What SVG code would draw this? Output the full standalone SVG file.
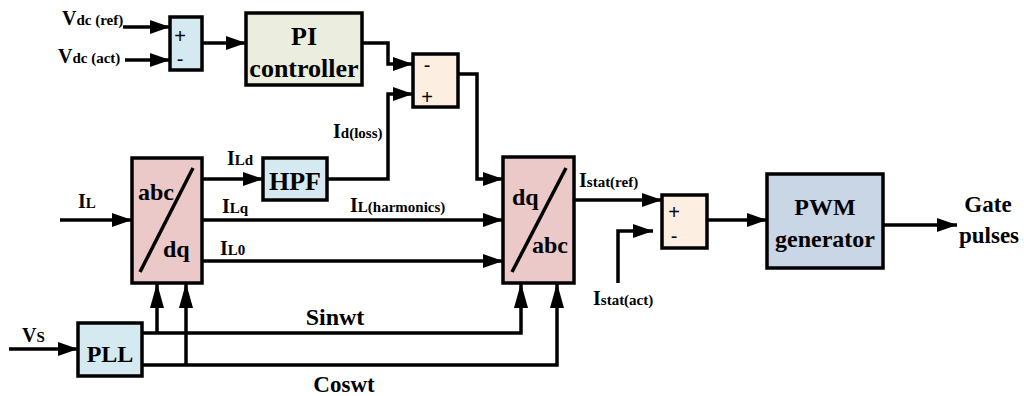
<svg xmlns="http://www.w3.org/2000/svg" width="1024" height="396" viewBox="0 0 1024 396">
<defs>
<style>
.box{stroke:#000;stroke-width:3.5}
.blue{fill:#d4eaf0}.green{fill:#ebeedf}.peach{fill:#fdeee2}.pink{fill:#ecc9c9}.steel{fill:#c9d6e6}
.w{fill:none;stroke:#000;stroke-width:3.5}
text{font-family:'Liberation Serif','DejaVu Serif',serif;font-weight:bold;fill:#000}
text.s{font-family:'Liberation Sans',sans-serif;font-weight:normal;font-size:20px}
.big{font-size:20px}.sub{font-size:15px}
</style>
<marker id="ah" markerUnits="userSpaceOnUse" markerWidth="20" markerHeight="14" refX="20" refY="7" orient="auto"><path d="M0,0 L20,7 L0,14 z" fill="#000"/></marker>
<marker id="av" markerUnits="userSpaceOnUse" markerWidth="25" markerHeight="14" refX="25" refY="7" orient="auto"><path d="M0,0 L25,7 L0,14 z" fill="#000"/></marker>
</defs>
<rect width="1024" height="396" fill="#fff"/>
<g id="connectors" class="w">
<path d="M123,27 H170" marker-end="url(#ah)"/>
<path d="M125,60 H170" marker-end="url(#ah)"/>
<path d="M202,43 H246" marker-end="url(#ah)"/>
<path d="M362,43 H388 V64 H413" marker-end="url(#ah)"/>
<path d="M327,179 H388 V94 H413" marker-end="url(#ah)"/>
<path d="M458,74 H477 V179 H503" marker-end="url(#ah)"/>
<path d="M60,220 H132" marker-end="url(#ah)"/>
<path d="M202,179 H263" marker-end="url(#ah)"/>
<path d="M202,220 H503" marker-end="url(#ah)"/>
<path d="M202,261 H503" marker-end="url(#ah)"/>
<path d="M9,349 H78" marker-end="url(#ah)"/>
<path d="M142,333 H521 V283" marker-end="url(#av)"/>
<path d="M157,333 V283" marker-end="url(#av)"/>
<path d="M142,365 H557 V283" marker-end="url(#av)"/>
<path d="M186,365 V283" marker-end="url(#av)"/>
<path d="M574,200 H662" marker-end="url(#ah)"/>
<path d="M618,283 V231 H653" marker-end="url(#ah)"/>
<path d="M707,220 H767" marker-end="url(#ah)"/>
<path d="M883,225 H957" marker-end="url(#ah)"/>
</g>
<g id="sum1"><rect class="box blue" x="170" y="17" width="32" height="53"/><text class="s" x="180" y="43" text-anchor="middle">+</text><text class="s" x="180" y="66" text-anchor="middle">-</text></g>
<g id="pi"><rect class="box green" x="246" y="13" width="116" height="72"/><text x="304" y="45" font-size="26" text-anchor="middle">PI</text><text x="304" y="77" font-size="26" text-anchor="middle">controller</text></g>
<g id="sum2"><rect class="box peach" x="413" y="54" width="45" height="53"/><text class="s" x="427" y="72" text-anchor="middle">-</text><text class="s" x="427" y="104" text-anchor="middle">+</text></g>
<g id="abcdq"><rect class="box pink" x="132" y="158" width="70" height="125"/><line x1="193" y1="168" x2="140" y2="272" stroke="#000" stroke-width="3.5"/><text x="138" y="200" font-size="24">abc</text><text x="163" y="257" font-size="24">dq</text></g>
<g id="hpf"><rect class="box blue" x="263" y="158" width="64" height="42"/><text x="295" y="190" font-size="26" text-anchor="middle">HPF</text></g>
<g id="dqabc"><rect class="box pink" x="503" y="157" width="71" height="126"/><line x1="566" y1="168" x2="512" y2="272" stroke="#000" stroke-width="3.5"/><text x="512" y="205" font-size="24">dq</text><text x="532" y="253" font-size="24">abc</text></g>
<g id="sum3"><rect class="box peach" x="662" y="195" width="45" height="53"/><text class="s" x="674" y="219" text-anchor="middle">+</text><text class="s" x="674" y="243" text-anchor="middle">-</text></g>
<g id="pwm"><rect class="box steel" x="767" y="174" width="116" height="94"/><text x="825" y="215" font-size="24" text-anchor="middle">PWM</text><text x="825" y="247" font-size="24" text-anchor="middle">generator</text></g>
<g id="pll"><rect class="box blue" x="78" y="323" width="64" height="53"/><text x="110" y="362" font-size="24" text-anchor="middle">PLL</text></g>
<g id="labels">
<text x="62" y="25"><tspan class="big">V</tspan><tspan class="sub">dc (ref)</tspan></text>
<text x="58" y="63"><tspan class="big">V</tspan><tspan class="sub">dc (act)</tspan></text>
<text x="333" y="138"><tspan class="big">I</tspan><tspan class="sub">d(loss)</tspan></text>
<text x="78" y="208"><tspan class="big">I</tspan><tspan class="sub">L</tspan></text>
<text x="227" y="165"><tspan class="big">I</tspan><tspan class="sub">Ld</tspan></text>
<text x="222" y="213"><tspan class="big">I</tspan><tspan class="sub">Lq</tspan></text>
<text x="350" y="212"><tspan class="big">I</tspan><tspan class="sub">L(harmonics)</tspan></text>
<text x="220" y="255"><tspan class="big">I</tspan><tspan class="sub">L0</tspan></text>
<text x="22" y="342"><tspan class="big">V</tspan><tspan class="sub">S</tspan></text>
<text x="579" y="187"><tspan class="big">I</tspan><tspan class="sub">stat(ref)</tspan></text>
<text x="593" y="305"><tspan class="big">I</tspan><tspan class="sub">stat(act)</tspan></text>
<text x="335" y="325" font-size="24" text-anchor="middle">Sinwt</text>
<text x="344" y="392" font-size="23" text-anchor="middle">Coswt</text>
<text x="988" y="212" font-size="23" text-anchor="middle">Gate</text>
<text x="989" y="243" font-size="23" text-anchor="middle">pulses</text>
</g>
</svg>
